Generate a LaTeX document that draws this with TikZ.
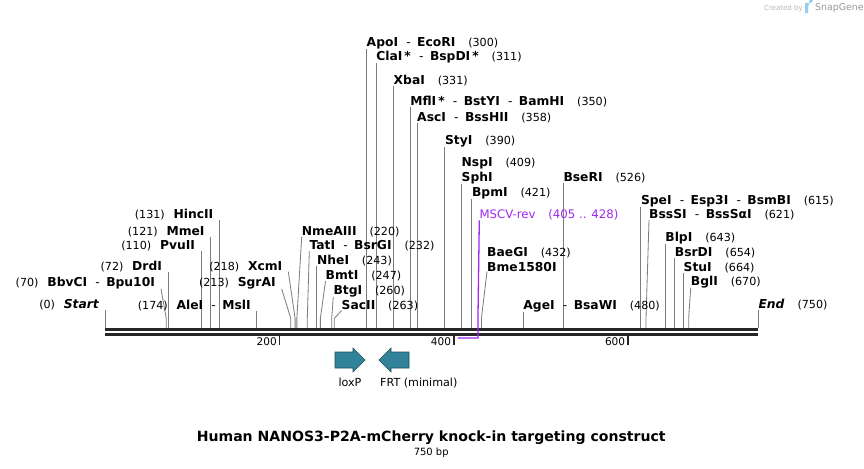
\documentclass[tikz,border=0pt]{standalone}
\usepackage{fontspec}
\setmainfont{DejaVu Sans}
\usepackage{tikz}
\usetikzlibrary{positioning,backgrounds}
\definecolor{leadgray}{RGB}{125,125,125}
\definecolor{primerpurple}{RGB}{160,40,240}
\definecolor{featteal}{RGB}{49,131,153}
\definecolor{featedge}{RGB}{30,75,90}
\definecolor{snapblue}{RGB}{150,205,240}
\newcommand{\dsh}{\hspace{7pt}{\mdseries-}\hspace{5.5pt}}
\newcommand{\cutat}[1]{\hspace{11pt}{\mdseries\fontsize{9.5}{11}\selectfont(#1)}}
\newcommand{\cutpre}[1]{{\mdseries\fontsize{9.5}{11}\selectfont(#1)}\hspace{7.5pt}}
\tikzset{
  enz/.style={inner sep=0pt,anchor=base west,font=\fontsize{10.5}{12}\selectfont\bfseries},
  enzl/.style={enz,anchor=base east,xshift=-5pt},
  lead/.style={draw=leadgray,line width=0.7pt},
  bbone/.style={line width=2.3pt,black!85},
  tck/.style={line width=1.6pt,black!85},
  tcklbl/.style={inner sep=0pt,anchor=base east,font=\fontsize{9}{10}\selectfont},
  feat/.style={fill=featteal,draw=featedge,line width=0.5pt},
  featlbl/.style={inner sep=0pt,anchor=base,font=\fontsize{9.5}{11}\selectfont},
  primer/.style={draw=primerpurple,line width=1.1pt}
}

\begin{document}
\begin{tikzpicture}[x=0.03cm,y=-0.03cm]
  \useasboundingbox (0,0) rectangle (864,468);
  % cut sites on the top edge of the backbone
  \foreach \bp in {0,70,72,110,121,131,174,200,213,218,220,232,243,247,260,263,300,311,331,350,358,390,400,405,409,421,428,432,480,526,600,615,621,643,654,664,670,750}
    \coordinate (s\bp) at ({105.3+0.8707*\bp},328.3);

  % labels right of their line
  \node[enz] (ApoI) at (s300 |- 0,46.5) {ApoI\dsh EcoRI\cutat{300}};
  \node[enz] (ClaI) at (s311 |- 0,60.5) {ClaI\,*\dsh BspDI\,*\cutat{311}};
  \node[enz] (XbaI) at (s331 |- 0,84) {XbaI\cutat{331}};
  \node[enz] (MflI) at (s350 |- 0,105.5) {MflI\,*\dsh BstYI\dsh BamHI\cutat{350}};
  \node[enz] (AscI) at (s358 |- 0,121.5) {AscI\dsh BssHII\cutat{358}};
  \node[enz] (StyI) at (s390 |- 0,144) {StyI\cutat{390}};
  \node[enz] (NspI) at (s409 |- 0,166.5) {NspI\cutat{409}};
  \node[enz] (SphI) at (s409 |- 0,181) {SphI};
  \node[enz] (BpmI) at (s421 |- 0,196) {BpmI\cutat{421}};
  \node[enz] (BaeGI) at (487,256) {BaeGI\cutat{432}};
  \node[enz] (Bme) at (487,271) {Bme1580I};
  \node[enz] (AgeI) at (s480 |- 0,309) {AgeI\dsh BsaWI\cutat{480}};
  \node[enz] (BseRI) at (s526 |- 0,181) {BseRI\cutat{526}};
  \node[enz] (SpeI) at (s615 |- 0,204) {SpeI\dsh Esp3I\dsh BsmBI\cutat{615}};
  \node[enz] (BssSI) at (649,218.5) {BssSI\dsh BssSαI\cutat{621}};
  \node[enz] (BlpI) at (s643 |- 0,241) {BlpI\cutat{643}};
  \node[enz] (BsrDI) at (s654 |- 0,256) {BsrDI\cutat{654}};
  \node[enz] (StuI) at (s664 |- 0,271) {StuI\cutat{664}};
  \node[enz] (BglI) at (690.7,285) {BglI\cutat{670}};
  \node[enz] (End) at (s750 |- 0,308.5) {\textit{End}\cutat{750}};
  \node[enz] (NmeAIII) at (301.7,235) {NmeAIII\cutat{220}};
  \node[enz] (TatI) at (309.3,249.5) {TatI\dsh BsrGI\cutat{232}};
  \node[enz] (NheI) at (s243 |- 0,264.5) {NheI\cutat{243}};
  \node[enz] (BmtI) at (325.5,279.5) {BmtI\cutat{247}};
  \node[enz] (BtgI) at (333.3,294) {BtgI\cutat{260}};
  \node[enz] (SacII) at (341.5,309) {SacII\cutat{263}};

  % labels left of their line
  \node[enzl] (Start) at (s0 |- 0,308.5) {\cutpre{0}\textit{Start}};
  \node[enzl] (BbvCI) at (161,286) {\cutpre{70}BbvCI\dsh Bpu10I};
  \node[enzl] (DrdI) at (s72 |- 0,270) {\cutpre{72}DrdI};
  \node[enzl] (PvuII) at (s110 |- 0,249.3) {\cutpre{110}PvuII};
  \node[enzl] (MmeI) at (s121 |- 0,235) {\cutpre{121}MmeI};
  \node[enzl] (HincII) at (s131 |- 0,218.7) {\cutpre{131}HincII};
  \node[enzl] (AleI) at (s174 |- 0,309) {\cutpre{174}AleI\dsh MslI};
  \node[enzl] (SgrAI) at (281.7,286) {\cutpre{213}SgrAI};
  \node[enzl] (XcmI) at (288.3,270) {\cutpre{218}XcmI};

  % primer
  \node[enz,font=\fontsize{10}{12}\selectfont,text=primerpurple] (MSCV) at (479.3,218.5) {MSCV-rev\hspace{11pt}(405 .. 428)};

  \begin{scope}[on background layer]
    \fill[white] (0,0) rectangle (864,468);
    \draw[lead] (ApoI.south west) -- (s300);
    \draw[lead] (ClaI.south west) -- (s311);
    \draw[lead] (XbaI.south west) -- (s331);
    \draw[lead] (MflI.south west) -- (s350);
    \draw[lead] (AscI.south west) -- (s358);
    \draw[lead] (StyI.south west) -- (s390);
    \draw[lead] (SphI.south west) -- (s409);
    \draw[lead] (BpmI.south west) -- (s421);
    \draw[lead] (Bme.south west) -- ([yshift=8.5pt]s432) -- (s432);
    \draw[lead] (AgeI.south west) -- (s480);
    \draw[lead] (BseRI.south west) -- (s526);
    \draw[lead] (SpeI.south west) -- (s615);
    \draw[lead] (BssSI.south west) -- ([yshift=8.5pt]s621) -- (s621);
    \draw[lead] (BlpI.south west) -- (s643);
    \draw[lead] (BsrDI.south west) -- (s654);
    \draw[lead] (StuI.south west) -- (s664);
    \draw[lead] (BglI.south west) -- ([yshift=8.5pt]s670) -- (s670);
    \draw[lead] (End.south west) -- (s750);
    \draw[lead] (NmeAIII.south west) -- ([yshift=8.5pt]s220) -- (s220);
    \draw[lead] (TatI.south west) -- ([yshift=8.5pt]s232) -- (s232);
    \draw[lead] (NheI.south west) -- (s243);
    \draw[lead] (BmtI.south west) -- ([yshift=8.5pt]s247) -- (s247);
    \draw[lead] (BtgI.south west) -- ([yshift=8.5pt]s260) -- (s260);
    \draw[lead] (SacII.south west) -- ([yshift=8.5pt]s263) -- (s263);
    \draw[lead] ([xshift=5pt]Start.south east) -- (s0);
    \draw[lead] ([xshift=5pt]BbvCI.south east) -- ([yshift=8.5pt]s70) -- (s70);
    \draw[lead] ([xshift=5pt]DrdI.south east) -- (s72);
    \draw[lead] ([xshift=5pt]PvuII.south east) -- (s110);
    \draw[lead] ([xshift=5pt]MmeI.south east) -- (s121);
    \draw[lead] ([xshift=5pt]HincII.south east) -- (s131);
    \draw[lead] ([xshift=5pt]AleI.south east) -- (s174);
    \draw[lead] ([xshift=5pt]SgrAI.south east) -- ([yshift=8.5pt]s213) -- (s213);
    \draw[lead] ([xshift=5pt]XcmI.south east) -- ([yshift=8.5pt]s218) -- (s218);
  \end{scope}

  % backbone and ruler
  \draw[bbone] (s0 |- 0,329.6) -- (s750 |- 0,329.6);
  \draw[bbone] (s0 |- 0,334.6) -- (s750 |- 0,334.6);
  \foreach \t in {200,400,600} {
    \draw[tck] (s\t |- 0,336) -- (s\t |- 0,345);
    \node[tcklbl] (t\t) at ([xshift=-2pt]s\t |- 0,345.5) {\t};
  }
  \draw[primer] (MSCV.south west) -- ([yshift=8.5pt]s428) -- (s428 |- 0,338) -- (s405 |- 0,338);

  % features
  \draw[feat] (335,352) -- (353,352) -- (353,348) -- (365,360) -- (353,372) -- (353,368) -- (335,368) -- cycle;
  \draw[feat] (409,352) -- (391,352) -- (391,348) -- (379,360) -- (391,372) -- (391,368) -- (409,368) -- cycle;
  \node[featlbl] (loxP) at (350,386) {loxP};
  \node[featlbl,anchor=base west] (FRT) at (380,386) {FRT (minimal)};

  % title
  \node[inner sep=0pt,anchor=base,font=\fontsize{12}{14}\selectfont\bfseries] (title) at (431.2,441) {Human NANOS3-P2A-mCherry knock-in targeting construct};
  \node[inner sep=0pt,below=2.5pt of title,font=\fontsize{8.5}{10}\selectfont] (len) {750 bp};

  % watermark
  \node[inner sep=0pt,anchor=base east,text=black!28,font=\fontsize{6}{7}\selectfont] (made) at (803,10) {Created by};
  \fill[snapblue] (805,3) -- (810,3) arc[start angle=90,end angle=-90,radius=3] -- (808,9) -- (808,13) -- (805,13) -- cycle;
  \node[inner sep=0pt,anchor=base west,text=black!40,font=\fontsize{8}{9}\selectfont] (snap) at (815,10.5) {SnapGene};
\end{tikzpicture}
\end{document}
